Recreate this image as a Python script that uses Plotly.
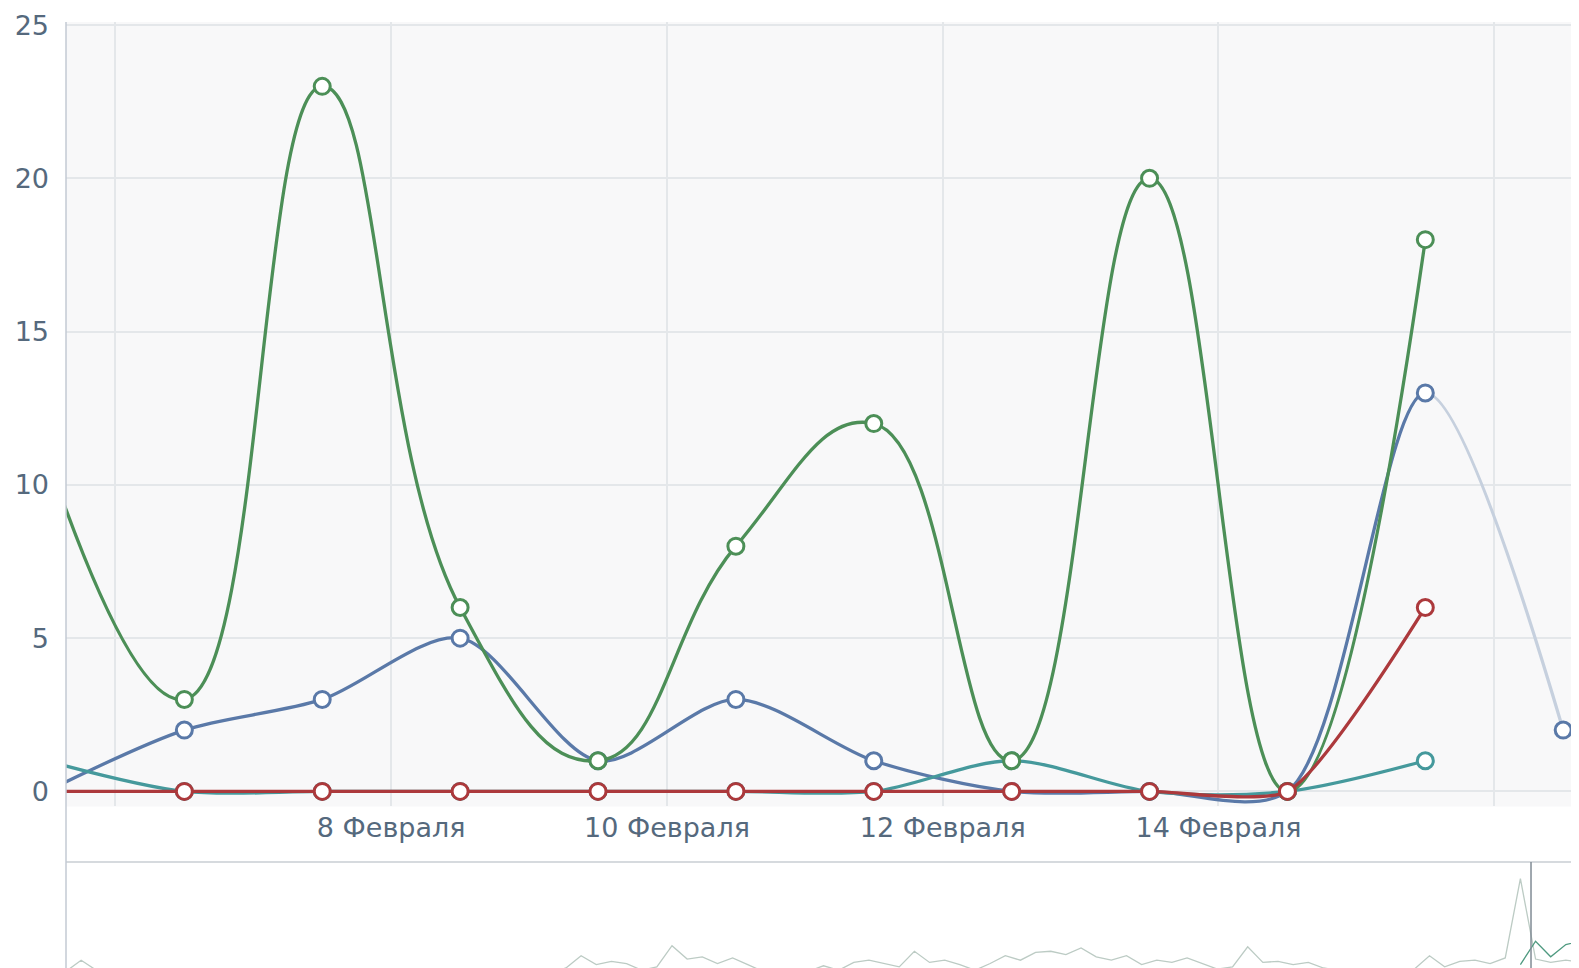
import pandas as pd
import plotly.graph_objects as go

# ---------------- data ----------------
dates = pd.date_range("2015-02-05 12:00", periods=12, freq="D")
green = [11, 3, 23, 6, 1, 8, 12, 1, 20, 0, 18]
blue = [0, 2, 3, 5, 1, 3, 1, 0, 0, 0, 13, 2]
teal = [1, 0, 0, 0, 0, 0, 0, 1, 0, 0, 1]
red = [0, 0, 0, 0, 0, 0, 0, 0, 0, 0, 6]

tick_dates = pd.date_range("2015-02-06", "2015-02-16", freq="2D")
tick_text = ["", "8 Февраля", "10 Февраля", "12 Февраля", "14 Февраля", ""]
y_ticks = [0, 5, 10, 15, 20, 25]

# navigator (overview) sparkline values, one every ~1/100 of the range
nav_grey = [0.2, 1.2, 0.3, 0.1, 0.1, 0.1, 0.1, 0.1, 0.1, 0.1,
            0.1, 0.1, 0.1, 0.1, 0.1, 0.1, 0.1, 0.1, 0.1, 0.1,
            0.1, 0.1, 0.1, 0.1, 0.1, 0.1, 0.1, 0.1, 0.1, 0.1,
            0.1, 0.1, 0.1, 0.5, 1.6, 0.8, 1.1, 0.9, 0.3, 0.6,
            2.5, 1.3, 1.5, 0.9, 1.4, 0.8, 0.2, 0.1, 0.3, 0.2,
            0.7, 0.3, 1.0, 1.2, 0.9, 0.6, 2.0, 1.0, 1.2, 0.8,
            0.3, 0.9, 1.6, 1.2, 1.9, 2.0, 1.7, 2.3, 1.5, 1.2,
            1.6, 0.8, 1.2, 1.0, 1.4, 0.9, 0.4, 0.6, 2.4, 1.0,
            1.1, 0.8, 1.0, 0.5, 0.3, 0.2, 0.3, 0.2, 0.3, 0.4,
            1.6, 0.6, 1.1, 1.2, 0.9, 1.4, 8.5, 1.3, 1.0, 1.2, 1.0]
nav_sel_idx = [96, 97, 98, 99, 100]
nav_sel = [0.8, 2.9, 1.5, 2.6, 2.9]
nav_window_start = 96.7

# ---------------- style ----------------
C_GREEN = "#4c8f57"
C_BLUE = "#5a79a8"
C_BLUE_LIGHT = "#c6d0de"
C_TEAL = "#45999c"
C_RED = "#ac393c"
TXT = "#55697d"
GRID = "#e4e7ea"
PLOT_BG = "#f8f8f9"
FONT = "DejaVu Sans"
LW = 3.3

x_start = pd.Timestamp("2015-02-05 15:24")
x_end = pd.Timestamp("2015-02-16 15:06")
split = dates[10]
f = (split - x_start) / (x_end - x_start)

# the page is photographed slightly scaled and offset by the 8px body margin
S = 0.992
def fpx(ref_px):
    return ref_px / S - 8

W, H = 1576, 960
m_l = fpx(65)
m_r = W - fpx(1568)
m_t = fpx(22)
m_b = 0
ph = H - m_t - m_b
main_bottom = (H - fpx(800)) / ph
nav_top = (H - fpx(855)) / ph
yr = [-0.49, 25.1]

fig = go.Figure()

def spl(s):
    return dict(shape="spline", smoothing=s)

# invisible trace so the main axes (grid, ticks) are drawn
fig.add_trace(go.Scatter(x=dates[:11], y=green, mode="lines", xaxis="x", yaxis="y",
                         line=dict(width=0), opacity=0, hoverinfo="skip"))

# blue line: dark up to the last complete day, light afterwards
fig.add_trace(go.Scatter(x=dates, y=blue, mode="lines", xaxis="x3", yaxis="y3",
                         line=dict(color=C_BLUE, width=LW, **spl(0.85)), hoverinfo="skip"))
fig.add_trace(go.Scatter(x=dates, y=blue, mode="lines", xaxis="x4", yaxis="y4",
                         line=dict(color=C_BLUE_LIGHT, width=LW, **spl(0.85)), hoverinfo="skip"))

mk = lambda c: dict(symbol="circle", size=16, color="white", line=dict(color=c, width=3))

fig.add_trace(go.Scatter(x=dates[1:], y=blue[1:], mode="markers", xaxis="x5", yaxis="y5",
                         marker=mk(C_BLUE)))
fig.add_trace(go.Scatter(x=dates[:11], y=teal, mode="lines+markers", xaxis="x5", yaxis="y5",
                         line=dict(color=C_TEAL, width=LW, **spl(0.9)), marker=mk(C_TEAL)))
fig.add_trace(go.Scatter(x=dates[:11], y=green, mode="lines+markers", xaxis="x5", yaxis="y5",
                         line=dict(color=C_GREEN, width=LW, **spl(1.3)), marker=mk(C_GREEN)))
fig.add_trace(go.Scatter(x=dates[:11], y=red, mode="lines+markers", xaxis="x5", yaxis="y5",
                         line=dict(color=C_RED, width=LW, **spl(0.6)), marker=mk(C_RED)))

# navigator
fig.add_trace(go.Scatter(x=list(range(len(nav_grey))), y=nav_grey, mode="lines",
                         xaxis="x2", yaxis="y2", line=dict(color="#bccbc4", width=1.3),
                         hoverinfo="skip"))
fig.add_trace(go.Scatter(x=nav_sel_idx, y=nav_sel, mode="lines",
                         xaxis="x2", yaxis="y2", line=dict(color="#4f9a80", width=1.3),
                         hoverinfo="skip"))

hidden = dict(visible=False, showgrid=False, zeroline=False)

fig.update_layout(
    width=W, height=H,
    margin=dict(l=m_l, r=m_r, t=m_t, b=m_b),
    paper_bgcolor="white", plot_bgcolor="rgba(0,0,0,0)",
    showlegend=False,
    font=dict(family=FONT, size=27, color=TXT),
    xaxis=dict(domain=[0, 1], anchor="y", type="date", range=[x_start, x_end],
               tickvals=tick_dates, ticktext=tick_text, showgrid=True, gridcolor=GRID,
               gridwidth=1.5, zeroline=False, showline=False, ticks="",
               tickfont=dict(size=27, color=TXT), ticklabelstandoff=3),
    yaxis=dict(domain=[main_bottom, 1], anchor="x", range=yr, tickvals=y_ticks,
               showgrid=True, gridcolor=GRID, gridwidth=1.5, zeroline=False,
               showline=False, ticks="", tickfont=dict(size=27, color=TXT),
               ticklabelstandoff=16),
    xaxis3=dict(domain=[0, f], anchor="y3", type="date", range=[x_start, split], **hidden),
    yaxis3=dict(domain=[main_bottom, 1], anchor="x3", range=yr, **hidden),
    xaxis4=dict(domain=[f, 1], anchor="y4", type="date", range=[split, x_end], **hidden),
    yaxis4=dict(domain=[main_bottom, 1], anchor="x4", range=yr, **hidden),
    xaxis5=dict(domain=[0, 1], anchor="y5", type="date", range=[x_start, x_end], **hidden),
    yaxis5=dict(domain=[main_bottom, 1], anchor="x5", range=yr, **hidden),
    xaxis2=dict(domain=[0, 1], anchor="y2", range=[0, len(nav_grey) - 1], **hidden),
    yaxis2=dict(domain=[0, nav_top], anchor="x2", range=[0.5, 10], **hidden),
    shapes=[
        dict(type="rect", xref="paper", yref="paper", x0=0, x1=1, y0=main_bottom, y1=1,
             fillcolor=PLOT_BG, line=dict(width=0), layer="below"),
        dict(type="line", xref="paper", yref="paper", x0=0, x1=1, y0=nav_top, y1=nav_top,
             line=dict(color="#c9ced3", width=1.5), layer="above"),
        dict(type="line", xref="paper", yref="paper", x0=0, x1=0, y0=0, y1=1,
             line=dict(color="#c3cad3", width=1.5), layer="above"),
        dict(type="line", xref="x2", yref="paper", x0=nav_window_start, x1=nav_window_start,
             y0=0, y1=nav_top, line=dict(color="#808b95", width=1.5), layer="above"),
    ],
)

fig.write_html("out.html")
